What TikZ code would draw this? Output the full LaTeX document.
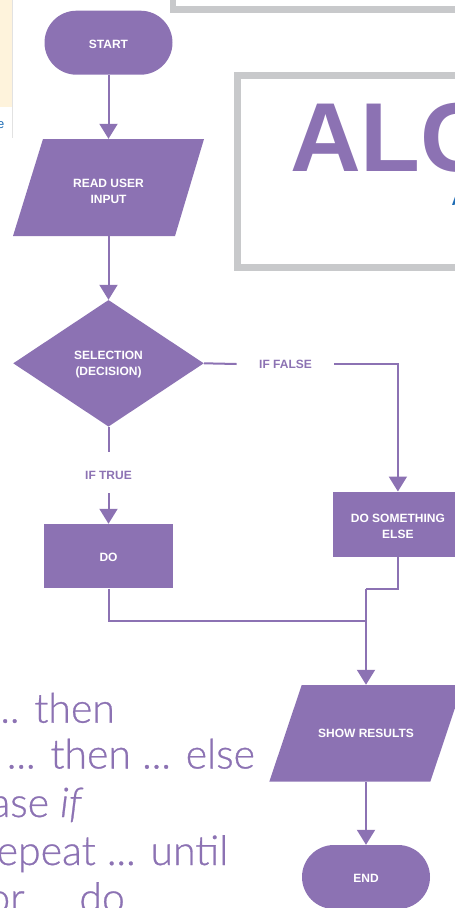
\documentclass[tikz,border=0pt]{standalone}
\usepackage{fontspec}
\setmainfont{Liberation Sans}
\newfontfamily\lightfont{Lato Light}
\usetikzlibrary{shapes.geometric,arrows.meta}
\definecolor{purp}{HTML}{8C72B3}
\definecolor{boxgray}{HTML}{C8C9CB}
\definecolor{cream}{HTML}{FEF3DC}
\definecolor{linkblue}{HTML}{1F6DB5}
\definecolor{thingray}{HTML}{E2E2E2}
\newcommand\labfont{\fontsize{12}{16}\selectfont\bfseries}
\newcommand\listfont{\lightfont\fontsize{41}{47}\selectfont\addfontfeature{FakeBold=0.7}}
\newcommand\listit[1]{{\itshape\addfontfeature{FakeBold=0.7}#1}}
\begin{document}
\begin{tikzpicture}[x=1pt,y=-1pt,
  flowbox/.style={fill=purp, draw=none, text=white, font=\labfont, align=center, inner sep=0pt},
  textonly/.style={draw=none, text=white, font=\labfont, align=center, inner sep=0pt, text depth=0pt},
  stadium/.style={flowbox, rounded corners=32pt, minimum width=128pt, minimum height=64pt},
  procbox/.style={flowbox, minimum width=129pt, minimum height=64.5pt},
  decision/.style={flowbox, diamond, minimum width=190.6pt, minimum height=126.6pt},
  branchlabel/.style={draw=none, text=purp, font=\labfont, inner sep=0pt, text depth=0pt},
  conn/.style={draw=purp, line width=2pt},
  arr/.style={conn, -{Triangle[width=18pt,length=15pt]}},
  listtext/.style={text=purp, font=\listfont, inner sep=0pt, anchor=base east}
]
\useasboundingbox (0,0) rectangle (455,908);
\clip (0,0) rectangle (455,908);

% background fragments
\fill[cream] (0,0) rectangle (12,107);
\draw[thingray, line width=1pt] (12.5,0) -- (12.5,138);
\node[text=linkblue, font=\fontsize{13}{15}\selectfont, inner sep=0pt, anchor=base east] (linkfrag) at (4.5,128.5) {e};
\draw[boxgray, line width=6.5pt] (173,-20) rectangle (480,9.7);
\draw[boxgray, line width=7pt] (237,75) rectangle (480,267);
\node[text=purp, font=\fontsize{98}{100}\selectfont\bfseries, inner sep=0pt, anchor=base west] (title) at (290,171.7) {ALG};
\node[text=linkblue, font=\fontsize{18}{20}\selectfont\bfseries, inner sep=0pt, anchor=base west] (subtitle) at (451.5,205) {A};

% list text at bottom left
\node[listtext] (l1) at (115,722.7) {if ... then};
\node[listtext] (l2) at (255,768.5) {if ... then ... else};
\node[listtext] (l3) at (81.7,817) {case \listit{if}};
\node[listtext] (l4) at (228.3,865) {repeat ... until};
\node[listtext] (l5) at (125,912) {for ... do};

% flowchart shapes
\node[stadium] (start) at (108.5,42.7) {};
\node[textonly] (starttxt) at (108.5,44.2) {START};
\fill[purp] (43,139) -- (204,139) -- (175,236) -- (13,236) -- cycle;
\node[draw=none, inner sep=0pt, minimum width=130pt, minimum height=97pt] (read) at (108.5,187.5) {};
\node[textonly] (readtxt) at (108.5,191) {READ USER\\INPUT};
\node[decision] (dec) at (108.5,363.3) {};
\node[textonly] (dectxt) at (108.5,363.8) {SELECTION\\(DECISION)};
\node[branchlabel] (iffalse) at (285.5,364.5) {IF FALSE};
\coordinate (fgapw) at (236.7,364);
\coordinate (fgape) at (334.3,364);
\node[branchlabel] (iftrue) at (108.5,475.7) {IF TRUE};
\coordinate (tgapn) at (108.5,452.3);
\coordinate (tgaps) at (108.5,493.3);
\node[procbox] (do) at (108.5,556.2) {};
\node[textonly] (dotxt) at (108.5,557.7) {DO};
\node[procbox, minimum height=65pt] (dose) at (397.9,524.2) {};
\node[textonly] (dosetxt) at (397.9,526.7) {DO SOMETHING\\ELSE};
\fill[purp] (301.7,685) -- (462.7,685) -- (430.3,781.7) -- (269.3,781.7) -- cycle;
\node[draw=none, inner sep=0pt, minimum width=130pt, minimum height=96.7pt] (show) at (366,733.3) {};
\node[textonly] (showtxt) at (366,732.9) {SHOW RESULTS};
\node[stadium] (end) at (366,877) {};
\node[textonly] (endtxt) at (366,878.3) {END};

\coordinate (jog) at (366,589);
\coordinate (merge) at (366,620.7);

% connectors
\draw[arr] (start.south) -- (read.north);
\draw[arr] (read.south) -- (dec.north);
\draw[conn] (dec.east) -- (fgapw);
\draw[arr] (fgape) -| (dose.north);
\draw[conn] (dec.south) -- (tgapn);
\draw[arr] (tgaps) -- (do.north);
\draw[conn] (do.south) |- (merge);
\draw[conn] (dose.south) |- (jog);
\draw[arr] (jog) -- (show.north);
\draw[arr] (show.south) -- (end.north);
\end{tikzpicture}
\end{document}
